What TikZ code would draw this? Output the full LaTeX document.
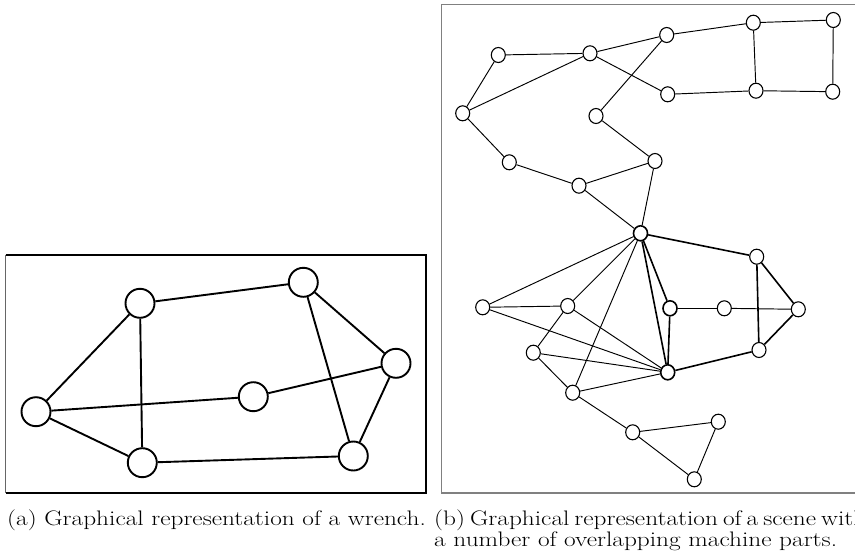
\documentclass[tikz,border=0pt]{standalone}
\usetikzlibrary{shapes.geometric}
\newcommand{\capwide}[1]{\scalebox{1.205}[1]{#1}}
\begin{document}
\begin{tikzpicture}[x=1pt,y=-1pt,
  bignode/.style={circle,draw,line width=1.9pt,minimum size=29pt,inner sep=0pt,fill=white},
  smallnode/.style={ellipse,draw,line width=1.1pt,minimum width=14pt,minimum height=15pt,inner sep=0pt,fill=white},
  bigedge/.style={line width=1.9pt},
  thinedge/.style={line width=0.95pt},
  thickedge/.style={line width=1.6pt},
  caption/.style={font=\fontsize{21}{24}\selectfont,inner sep=0pt}]
\useasboundingbox (0,0) rectangle (855,557);

% frames
\draw[line width=1.2pt,black] (5.5,255) -- (426,255) -- (426,493) -- (5.5,493);
\draw[line width=1.2pt,black!60] (5.5,255) -- (5.5,493);
\draw[line width=1.2pt,black!50] (860,4.3) -- (441.7,4.3) -- (441.7,493) -- (860,493);

% (a) wrench graph
\begin{scope}[every node/.style=bignode]
\node (a1) at (36,411.7) {};
\node (a2) at (140,303.3) {};
\node (a3) at (142.3,462.7) {};
\node (a4) at (303.3,282.3) {};
\node (a5) at (253.3,396.7) {};
\node (a6) at (396,363.3) {};
\node (a7) at (353.3,456) {};
\end{scope}
\begin{scope}[bigedge]
\draw (a1) -- (a2);
\draw (a1) -- (a3);
\draw (a1) -- (a5);
\draw (a2) -- (a3);
\draw (a2) -- (a4);
\draw (a3) -- (a7);
\draw (a4) -- (a6);
\draw (a4) -- (a7);
\draw (a5) -- (a6);
\draw (a6) -- (a7);
\end{scope}

% (b) scene graph
\begin{scope}[every node/.style=smallnode]
\node (n1) at (498.3,55) {};
\node (n2) at (590,53.3) {};
\node (n3) at (666.7,35) {};
\node (n4) at (753.3,22.7) {};
\node (n5) at (833.3,20) {};
\node (n6) at (462.7,113.3) {};
\node (n7) at (667.7,94.3) {};
\node (n8) at (756,90.7) {};
\node (n9) at (832.7,91.7) {};
\node (n10) at (596,116) {};
\node (n11) at (509.3,162.3) {};
\node (n12) at (655,161) {};
\node (n13) at (579,185.7) {};
\node[line width=1.6pt] (hub) at (640.5,233.3) {};
\node (r1) at (756.7,256.7) {};
\node (l1) at (482.7,307.3) {};
\node (l2) at (567.7,306) {};
\node[line width=1.6pt] (m1) at (670,308.3) {};
\node (m2) at (724.3,308.3) {};
\node (r2) at (798.3,309.3) {};
\node (l3) at (533.3,352.7) {};
\node (r3) at (759,350) {};
\node[line width=1.6pt] (b1) at (667.7,372.3) {};
\node (l4) at (572.7,392.7) {};
\node (t1) at (632.7,432.3) {};
\node (t2) at (718.3,421.7) {};
\node (t3) at (694.3,479.3) {};
\end{scope}

\begin{scope}[thinedge]
\draw (n1) -- (n2);
\draw (n1) -- (n6);
\draw (n6) -- (n2);
\draw (n2) -- (n3);
\draw (n2) -- (n7);
\draw (n3) -- (n4);
\draw (n3) -- (n10);
\draw (n4) -- (n5);
\draw (n4) -- (n8);
\draw (n5) -- (n9);
\draw (n7) -- (n8);
\draw (n8) -- (n9);
\draw (n6) -- (n11);
\draw (n11) -- (n13);
\draw (n13) -- (n12);
\draw (n10) -- (n12);
\draw (n12) -- (hub);
\draw (n13) -- (hub);
\draw (hub) -- (l1);
\draw (hub) -- (l2);
\draw (hub) -- (l4);
\draw (l1) -- (l2);
\draw (l1) -- (b1);
\draw (l2) -- (l3);
\draw (l2) -- (b1);
\draw (l3) -- (b1);
\draw (l3) -- (l4);
\draw (l4) -- (b1);
\draw (m2) -- (r2);
\draw (l4) -- (t1);
\draw (t1) -- (t2);
\draw (t1) -- (t3);
\draw (t2) -- (t3);
\end{scope}
\begin{scope}[thickedge]
\draw (hub) -- (r1);
\draw (hub) -- (m1);
\draw (hub) -- (b1);
\draw (m1) -- (m2);
\draw (m1) -- (b1);
\draw (r1) -- (r3);
\draw (r1) -- (r2);
\draw (r3) -- (r2);
\draw (b1) -- (r3);
\end{scope}

% captions
\node[caption,anchor=base west] (capa) at (7,525.5) {\capwide{(a) Graphical representation of a wrench.}};
\node[caption,anchor=base west] (capb1) at (434,525.5) {\capwide{\spaceskip=0.2em (b) Graphical representation of a scene with}};
\node[caption,anchor=base west] (capb2) at (434,546.5) {\capwide{a number of overlapping machine parts.}};
\end{tikzpicture}
\end{document}
